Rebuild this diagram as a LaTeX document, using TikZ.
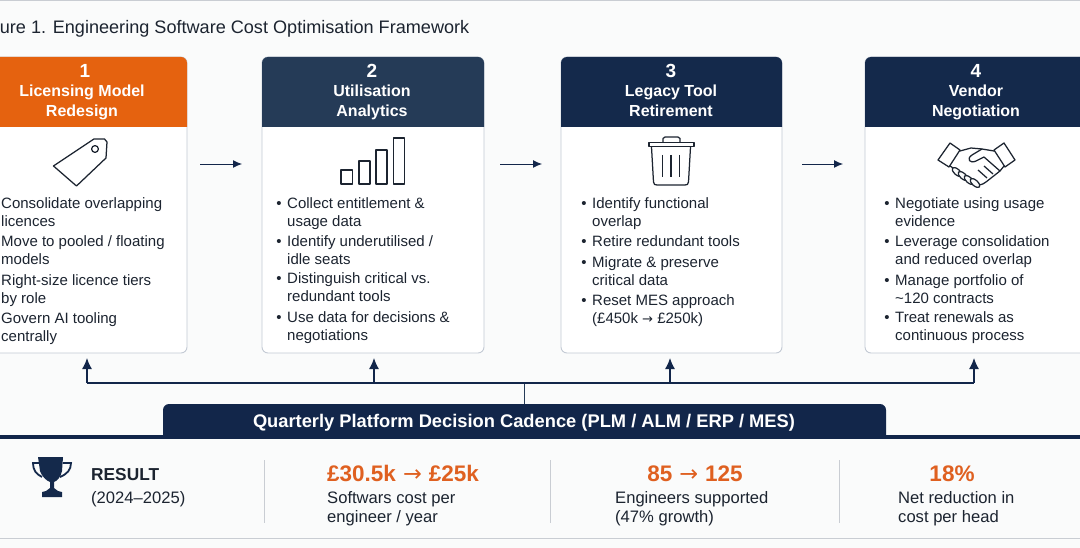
\documentclass[tikz,border=0pt]{standalone}
\usepackage{fontspec}
\setmainfont{Liberation Sans}
\newfontfamily\arrowfont{DejaVu Sans}
\usetikzlibrary{arrows.meta}
\definecolor{pagebg}{HTML}{FAFBFB}
\definecolor{orangehd}{HTML}{E5620F}
\definecolor{navyA}{HTML}{253B57}
\definecolor{navyB}{HTML}{14294B}
\definecolor{navyC}{HTML}{12264A}
\definecolor{cardline}{HTML}{C3CAD4}
\definecolor{ink}{HTML}{1C2430}
\definecolor{stat}{HTML}{DF6020}
\definecolor{rulegray}{HTML}{C9CDD3}
\tikzset{
  x=1pt,y=-1pt,
  cardbox/.style={draw=cardline,line width=.9pt,fill=white,rounded corners=6pt},
  head/.style={text=white,font=\fontsize{16}{19.5}\selectfont\bfseries,align=center,inner sep=0pt},
  num/.style={text=white,font=\fontsize{19}{20}\selectfont\bfseries,inner sep=0pt},
  item/.style={text=ink,font=\fontsize{15}{18}\selectfont,align=left,anchor=north west,inner sep=0pt},
  flow/.style={draw=navyC,line width=.9pt,-{Latex[length=9pt,width=8pt]}},
  up/.style={draw=navyC,line width=1.3pt,-{Latex[length=11pt,width=10pt]}},
  trunk/.style={draw=navyC,line width=1.3pt},
  icon/.style={draw=ink,line width=1.25pt,line join=round,fill=none},
  statnum/.style={text=stat,font=\fontsize{22.5}{24}\selectfont\bfseries,inner sep=0pt,anchor=base},
  statlab/.style={text=ink,font=\fontsize{16.6}{19.5}\selectfont,align=left,anchor=north west,inner sep=0pt},
  divider/.style={draw=rulegray,line width=.9pt},
}
\newcommand{\bl}{\strut\llap{•\hspace{5.5pt}}}
\newcommand{\arr}{\hspace{7pt}{\arrowfont\mdseries →}\hspace{7pt}}
\newcommand{\headpanel}[3]{\fill[#1] (#2,127) {[rounded corners=6pt] -- (#2,57) -- (#3,57)} -- (#3,127) -- cycle;}
\begin{document}
\begin{tikzpicture}
\useasboundingbox (0,0) rectangle (1080,548);
\clip (0,0) rectangle (1080,548);
\fill[pagebg] (0,0) rectangle (1080,548);
\draw[rulegray,line width=1.2pt] (0,0.5) -- (1080,0.5);
\node[anchor=base east,inner sep=0pt,text=ink,font=\fontsize{18.1}{20}\selectfont] (title) at (469.5,33.7) {Figure 1. Engineering Software Cost Optimisation Framework};

% cards
\draw[cardbox] (-35,57) rectangle (187,353);
\draw[cardbox] (262,57) rectangle (484,353);
\draw[cardbox] (561,57) rectangle (782,353);
\draw[cardbox] (865,57) rectangle (1087,353);
\headpanel{orangehd}{-35}{187}
\headpanel{navyA}{262}{484}
\headpanel{navyB}{561}{782}
\headpanel{navyB}{865}{1087}

\node[num] (n1) at (85,71) {1};
\node[head] (h1) at (82,102.7) {\strut Licensing Model\\\strut Redesign};
\node[num] (n2) at (372,71) {2};
\node[head] (h2) at (372,102.7) {\strut Utilisation\\\strut Analytics};
\node[num] (n3) at (671,71) {3};
\node[head] (h3) at (671,102.7) {\strut Legacy Tool\\\strut Retirement};
\node[num] (n4) at (976,71) {4};
\node[head] (h4) at (976,102.7) {\strut Vendor\\\strut Negotiation};

% card 1 text
\node[item] (a1) at (1,195.5) {\bl Consolidate overlapping\\licences};
\node[item] (a2) at (1,233.5) {\bl Move to pooled / floating\\models};
\node[item] (a3) at (1,272.5) {\bl Right-size licence tiers\\by role};
\node[item] (a4) at (1,310.5) {\bl Govern AI tooling\\centrally};
% card 2 text
\node[item] (b1) at (287,195.5) {\bl Collect entitlement \&\\usage data};
\node[item] (b2) at (287,233.5) {\bl Identify underutilised /\\idle seats};
\node[item] (b3) at (287,270.5) {\bl Distinguish critical vs.\\redundant tools};
\node[item] (b4) at (287,309.5) {\bl Use data for decisions \&\\negotiations};
% card 3 text
\node[item] (c1) at (592,195.5) {\bl Identify functional\\overlap};
\node[item] (c2) at (592,233.5) {\bl Retire redundant tools};
\node[item] (c3) at (592,254.5) {\bl Migrate \& preserve\\critical data};
\node[item] (c4) at (592,292.5) {\bl Reset MES approach\\(£450k {\arrowfont\fontsize{13}{18}\selectfont →} £250k)};
% card 4 text
\node[item] (d1) at (895,195.5) {\bl Negotiate using usage\\evidence};
\node[item] (d2) at (895,233.5) {\bl Leverage consolidation\\and reduced overlap};
\node[item] (d3) at (895,272.5) {\bl Manage portfolio of\\\textasciitilde120 contracts};
\node[item] (d4) at (895,309.5) {\bl Treat renewals as\\continuous process};

% icons: tag
\draw[icon] (94,139) -- (104.5,139) -- (107,142) -- (106,158) -- (76.5,186) -- (53.5,166) -- cycle;
\draw[icon] (95,149) circle (3.4);
% bars
\draw[icon] (341,170) rectangle (352.5,184);
\draw[icon] (359,161) rectangle (370,184);
\draw[icon] (376,150) rectangle (387,184);
\draw[icon] (393.5,138) rectangle (404.5,184);
% trash
\draw[icon] (649,142.5) -- (694,142.5) -- (694,146.5) -- (649,146.5) -- cycle;
\draw[icon] (663,142.5) -- (663,138.5) -- (665,137) -- (678,137) -- (680,138.5) -- (680,142.5);
\draw[icon] (651.5,147) -- (653.5,182) .. controls (653.7,184.5) and (655,185) .. (657,185) -- (685,185) .. controls (687,185) and (688.3,184.5) .. (688.5,182) -- (690.5,147);
\draw[icon] (662.5,155) -- (662.5,177) (671,155) -- (671,177) (679.7,155) -- (679.7,177);
% handshake
\draw[icon] (950,143) -- (960,150) -- (949,167) -- (938,160) -- cycle;
\draw[icon] (1004,143) -- (994,150) -- (1005,167) -- (1015,160) -- cycle;
\draw[icon] (960,151) -- (971,148) -- (982,149) -- (994,151);
\draw[icon] (982,149) -- (972,155) .. controls (966,159) and (970,164) .. (976,161) -- (984,157) -- (1000,171);
\draw[icon] (950,166) -- (956,170);
\draw[icon] (1004,166) -- (1000,171) -- (986,182) .. controls (982,185) and (978,186) .. (974,184);
\foreach \ex/\ey [count=\ei] in {957/172,963/176,969/180,975/183}
  \draw[icon,fill=pagebg,rotate around={-42:(\ex,\ey)}] (\ex,\ey) ellipse (6 and 2.8);
\draw[icon] (978,170) -- (987,178) (984,166) -- (993,174);

% flow arrows
\coordinate (f1s) at (200,164); \coordinate (f1e) at (242,164);
\coordinate (f2s) at (500,164); \coordinate (f2e) at (542,164);
\coordinate (f3s) at (802,164); \coordinate (f3e) at (843,164);
\draw[flow] (f1s) -- (f1e);
\draw[flow] (f2s) -- (f2e);
\draw[flow] (f3s) -- (f3e);

% bar
\fill[navyC] (0,435) rectangle (1080,438.5);
\fill[navyC] (163,438) {[rounded corners=6pt] -- (163,404) -- (886,404)} -- (886,438) -- cycle;
\node[text=white,font=\fontsize{18.3}{20}\selectfont\bfseries,inner sep=0pt] (bar) at (524,422.5) {Quarterly Platform Decision Cadence (PLM / ALM / ERP / MES)};

% feedback
\coordinate (j0) at (524,383);
\coordinate (j00) at (524,404);
\coordinate (j1) at (87,383); \coordinate (j2) at (374,383);
\coordinate (j3) at (670,383); \coordinate (j4) at (974,383);
\coordinate (t1) at (87,358); \coordinate (t2) at (374,358);
\coordinate (t3) at (670,358); \coordinate (t4) at (974,358);
\draw[draw=navyA,line width=.8pt] (j00) -- (j0);
\draw[trunk] (j1) -- (j4);
\draw[up] (j1) -- (t1);
\draw[up] (j2) -- (t2);
\draw[up] (j3) -- (t3);
\draw[up] (j4) -- (t4);

% results
\draw[rulegray,line width=1.2pt] (0,538.5) -- (1080,538.5);
\coordinate (dv1a) at (264,460); \coordinate (dv1b) at (264,523);
\coordinate (dv2a) at (550,460); \coordinate (dv2b) at (550,523);
\coordinate (dv3a) at (839,460); \coordinate (dv3b) at (839,523);
\draw[divider] (dv1a) -- (dv1b);
\draw[divider] (dv2a) -- (dv2b);
\draw[divider] (dv3a) -- (dv3b);

% trophy
\fill[navyB] (38,457) -- (63,457) -- (62,471) .. controls (61,477) and (57,481) .. (54,482) -- (54,488) -- (58,491) -- (62,492) -- (62,497) -- (42,497) -- (42,492) -- (46,491) -- (50,488) -- (50,482) .. controls (47,481) and (42,477) .. (40,471) -- cycle;
\draw[navyB,line width=1.8pt] (39,463) -- (33,463) .. controls (33,470) and (36,474) .. (42,477);
\draw[navyB,line width=1.8pt] (63,463) -- (71,463) .. controls (71,470) and (67,474) .. (60,477);

\node[anchor=base west,inner sep=0pt,text=ink,font=\fontsize{17.3}{20}\selectfont\bfseries] (r1) at (91,480) {RESULT};
\node[statlab] (r2) at (91,489.5) {\strut(2024–2025)};
\node[statnum,anchor=base west] (s1) at (327,481) {£30.5k\arr£25k};
\node[statnum] (s2) at (695,481) {85\arr125};
\node[statnum] (s3) at (952,481) {18\%};
\node[statlab] (s1l) at (327,489.5) {\strut Softwars cost per\\\strut engineer / year};
\node[statlab] (s2l) at (615,489.5) {\strut Engineers supported\\\strut(47\% growth)};
\node[statlab] (s3l) at (898,489.5) {\strut Net reduction in\\\strut cost per head};
\end{tikzpicture}
\end{document}
